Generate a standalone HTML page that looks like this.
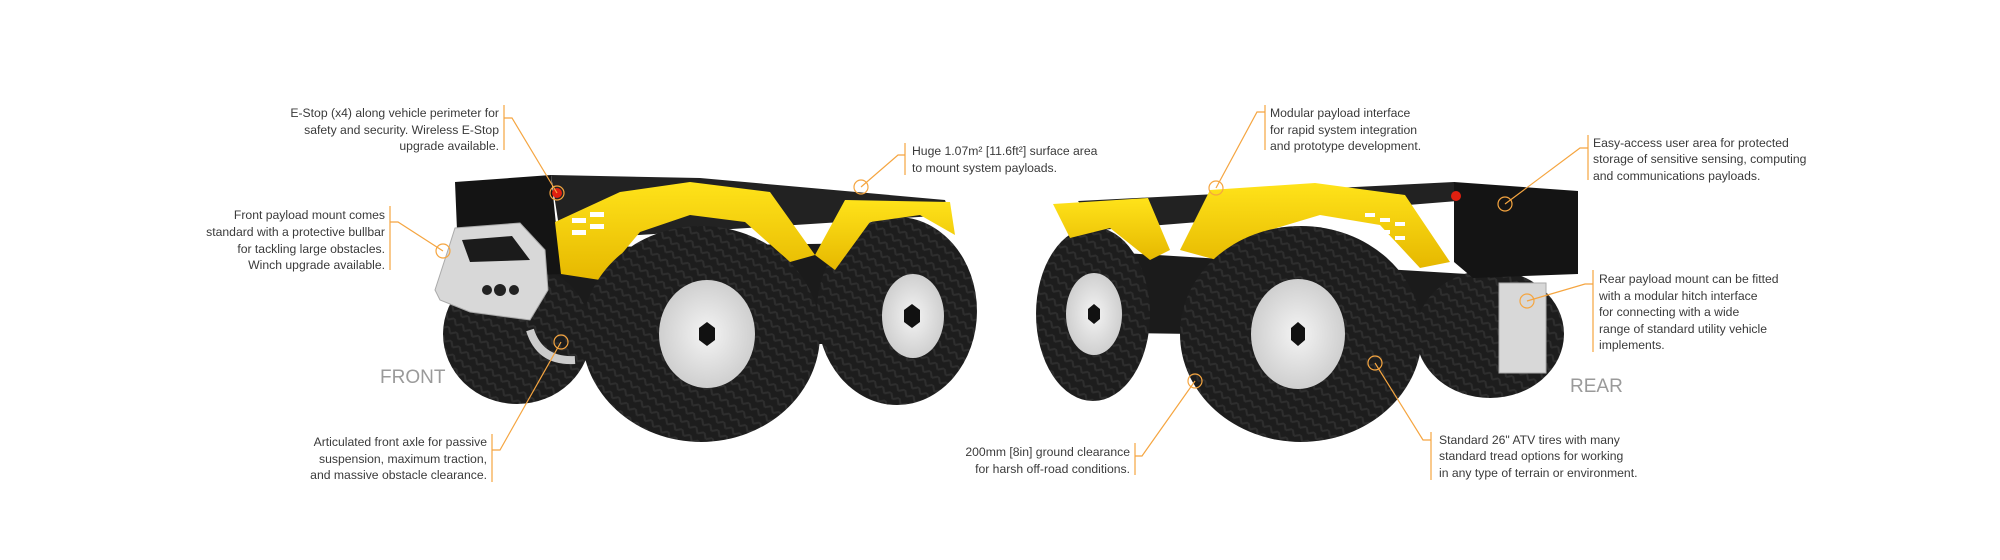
<!DOCTYPE html>
<html><head><meta charset="utf-8"><style>
html,body{margin:0;padding:0;background:#fff;}
svg{display:block;}
text{font-family:"Liberation Sans Narrow","Liberation Sans",sans-serif;font-size:12.2px;fill:#3a3a3a;}
.big{font-size:19px;fill:#9a9a9a;}
.o{stroke:#f5a540;stroke-width:1.2;fill:none;}
</style></head><body>
<svg width="2000" height="560" viewBox="0 0 2000 560" xmlns="http://www.w3.org/2000/svg">
<defs>
<pattern id="tread" width="10" height="10" patternUnits="userSpaceOnUse" patternTransform="rotate(35)">
<rect width="10" height="10" fill="#1d1d1d"/><path d="M0 5 L5 0 L10 5" stroke="#2e2e2e" stroke-width="2" fill="none"/>
</pattern>
<radialGradient id="hub" cx="50%" cy="50%" r="50%"><stop offset="0" stop-color="#f4f4f4"/><stop offset="1" stop-color="#cfcfcf"/></radialGradient>
<linearGradient id="yel" x1="0" y1="0" x2="0" y2="1"><stop offset="0" stop-color="#ffe31a"/><stop offset="1" stop-color="#e6b800"/></linearGradient>
</defs>

<!-- FRONT ROBOT -->
<polygon points="459,249 950,242 950,344 459,344" fill="#1b1b1b"/>
<polygon points="551,175 700,178 945,200 950,215 561,240" fill="#222"/>
<ellipse cx="897" cy="311" rx="80" ry="94" fill="url(#tread)"/>
<ellipse cx="913" cy="316" rx="31" ry="42" fill="url(#hub)"/>
<polygon points="904,310 912,304 920,310 920,322 912,328 904,322" fill="#111"/>
<ellipse cx="517" cy="334" rx="74" ry="70" fill="url(#tread)"/>
<polygon points="455,182 551,175 561,274 459,278" fill="#141414"/>
<circle cx="557" cy="193" r="5" fill="#e02010"/>
<polygon points="561,274 555,222 620,192 690,182 770,192 815,255 790,262 745,222 690,215 640,232 600,280" fill="url(#yel)"/>
<polygon points="815,255 845,200 950,202 955,235 920,215 870,222 835,270" fill="url(#yel)"/>
<g fill="#fff"><rect x="572" y="218" width="14" height="5"/><rect x="590" y="212" width="14" height="5"/><rect x="572" y="230" width="14" height="5"/><rect x="590" y="224" width="14" height="5"/></g>
<ellipse cx="701" cy="334" rx="119" ry="108" fill="url(#tread)"/>
<ellipse cx="707" cy="334" rx="48" ry="54" fill="url(#hub)"/>
<polygon points="699,328 707,322 715,328 715,340 707,346 699,340" fill="#111"/>
<polygon points="435,290 448,250 455,228 520,223 545,250 548,290 530,320 470,312 440,300" fill="#d8d8d8" stroke="#aaa"/>
<polygon points="462,240 512,236 530,260 470,262" fill="#1b1b1b"/>
<circle cx="487" cy="290" r="5" fill="#222"/><circle cx="500" cy="290" r="6" fill="#222"/><circle cx="514" cy="290" r="5" fill="#222"/>
<path d="M530 330 Q540 362 575 360" stroke="#ccc" stroke-width="8" fill="none"/>

<!-- REAR ROBOT -->
<polygon points="1059,249 1467,274 1467,338 1059,332" fill="#1b1b1b"/>
<ellipse cx="1490" cy="334" rx="74" ry="64" fill="url(#tread)"/>
<ellipse cx="1093" cy="314" rx="57" ry="87" fill="url(#tread)"/>
<ellipse cx="1094" cy="314" rx="28" ry="41" fill="url(#hub)"/>
<polygon points="1088,309 1094,304 1100,309 1100,319 1094,324 1088,319" fill="#111"/>
<polygon points="1078,201 1454,182 1470,200 1100,230" fill="#222"/>
<polygon points="1454,182 1578,191 1578,274 1473,278 1454,262" fill="#141414"/>
<circle cx="1456" cy="196" r="5" fill="#e02010"/>
<polygon points="1053,204 1148,198 1170,250 1150,260 1110,228 1070,238" fill="url(#yel)"/>
<polygon points="1180,250 1210,190 1315,183 1405,195 1450,262 1420,268 1380,225 1320,215 1270,230 1235,265" fill="url(#yel)"/>
<g fill="#fff"><rect x="1365" y="213" width="10" height="4"/><rect x="1380" y="218" width="10" height="4"/><rect x="1395" y="222" width="10" height="4"/><rect x="1380" y="230" width="10" height="4"/><rect x="1395" y="236" width="10" height="4"/></g>
<ellipse cx="1301" cy="334" rx="121" ry="108" fill="url(#tread)"/>
<ellipse cx="1298" cy="334" rx="47" ry="55" fill="url(#hub)"/>
<polygon points="1291,328 1298,322 1305,328 1305,340 1298,346 1291,340" fill="#111"/>
<rect x="1499" y="283" width="47" height="90" fill="#d8d8d8" stroke="#aaa"/>

<!-- callouts -->
<g class="o">
<path d="M504 105 V150 M504 118 H512 L557 193"/><circle cx="557" cy="193" r="7"/>
<path d="M390 206 V270 M390 222 H398 L443 251"/><circle cx="443" cy="251" r="7"/>
<path d="M905 143 V175 M905 155 H898 L861 187"/><circle cx="861" cy="187" r="7"/>
<path d="M1265 105 V150 M1265 112 H1257 L1216 188"/><circle cx="1216" cy="188" r="7"/>
<path d="M1588 135 V180 M1588 148 H1580 L1505 204"/><circle cx="1505" cy="204" r="7"/>
<path d="M1593 270 V352 M1593 284 H1585 L1527 301"/><circle cx="1527" cy="301" r="7"/>
<path d="M1431 432 V480 M1431 440 H1423 L1375 363"/><circle cx="1375" cy="363" r="7"/>
<path d="M1135 443 V475 M1135 456 H1142 L1195 381"/><circle cx="1195" cy="381" r="7"/>
<path d="M492 434 V482 M492 450 H500 L561 342"/><circle cx="561" cy="342" r="7"/>
</g>

<g text-anchor="end">
<text x="499" y="117">E-Stop (x4) along vehicle perimeter for</text>
<text x="499" y="134">safety and security.  Wireless E-Stop</text>
<text x="499" y="150">upgrade available.</text>
<text x="385" y="219">Front payload mount comes</text>
<text x="385" y="236">standard with a protective bullbar</text>
<text x="385" y="253">for tackling large obstacles.</text>
<text x="385" y="269">Winch upgrade available.</text>
<text x="487" y="446">Articulated front axle for passive</text>
<text x="487" y="463">suspension, maximum traction,</text>
<text x="487" y="479">and massive obstacle clearance.</text>
<text x="1130" y="456">200mm [8in] ground clearance</text>
<text x="1130" y="473">for harsh off-road conditions.</text>
</g>
<text x="912" y="155">Huge 1.07m² [11.6ft²] surface area</text>
<text x="912" y="172">to mount system payloads.</text>
<text x="1270" y="117">Modular payload interface</text>
<text x="1270" y="134">for rapid system integration</text>
<text x="1270" y="150">and prototype development.</text>
<text x="1593" y="147">Easy-access user area for protected</text>
<text x="1593" y="163">storage of sensitive sensing, computing</text>
<text x="1593" y="180">and communications payloads.</text>
<text x="1599" y="283">Rear payload mount can be fitted</text>
<text x="1599" y="300">with a modular hitch interface</text>
<text x="1599" y="316">for connecting with a wide</text>
<text x="1599" y="333">range of standard utility vehicle</text>
<text x="1599" y="349">implements.</text>
<text x="1439" y="444">Standard 26" ATV tires with many</text>
<text x="1439" y="460">standard tread options for working</text>
<text x="1439" y="477">in any type of terrain or environment.</text>
<text class="big" x="380" y="383">FRONT</text>
<text class="big" x="1570" y="392">REAR</text>
</svg>
</body></html>
